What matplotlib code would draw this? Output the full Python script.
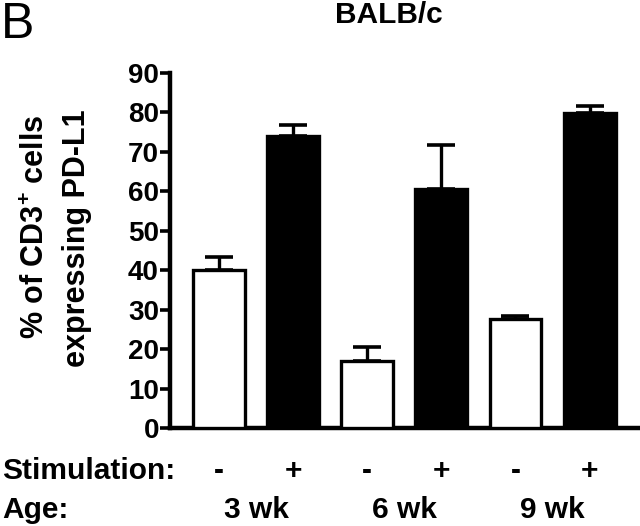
import matplotlib
matplotlib.use("Agg")
import matplotlib.pyplot as plt
import numpy as np

# Data
groups = ["3 wk", "6 wk", "9 wk"]
stim_labels = ["-", "+", "-", "+", "-", "+"]
values = [40.1, 74.1, 17.0, 60.6, 27.7, 79.9]
errors = [3.3, 2.6, 3.6, 11.2, 0.8, 1.7]
fills = ["white", "black", "white", "black", "white", "black"]
yticks = [0, 10, 20, 30, 40, 50, 60, 70, 80, 90]

plt.rcParams['font.family'] = ['Liberation Sans', 'DejaVu Sans']
plt.rcParams['mathtext.fontset'] = 'custom'
plt.rcParams['mathtext.rm'] = 'Liberation Sans:bold'
plt.rcParams['mathtext.bf'] = 'Liberation Sans:bold'
plt.rcParams['mathtext.it'] = 'Liberation Sans:bold'

FS = 21.5

fig = plt.figure(figsize=(6.4, 5.26), dpi=100)
ax = fig.add_axes([170/640, 1-428/526, 1-170/640, (428-73)/526])

x = np.arange(len(values))
ax.bar(x, values, width=0.70, color=fills, edgecolor='black', linewidth=2.4, zorder=3)
ax.errorbar(x, values, yerr=[np.zeros(len(errors)), errors], fmt='none',
            ecolor='black', elinewidth=2.4, capsize=10, capthick=2.6, zorder=2)

ax.set_xlim(-0.66, 5.68)
ax.set_ylim(0, 90)
ax.set_yticks(yticks)
ax.set_xticks([])
for s in ['top', 'right']:
    ax.spines[s].set_visible(False)
for s in ['left', 'bottom']:
    ax.spines[s].set_linewidth(3.2)
ax.tick_params(axis='y', length=7, width=2.6, pad=1, labelsize=20)
for lab in ax.get_yticklabels():
    lab.set_fontweight('bold')

# y label (two lines)
fig.text(36/640, 1-227/526, r'% of CD3$^{+}$ cells', rotation=90, ha='center', va='center',
         fontsize=22, fontweight='bold')
fig.text(77/640, 1-238/526, 'expressing PD-L1', rotation=90, ha='center', va='center',
         fontsize=22, fontweight='bold')

# title and panel letter
fig.text(389/640, 1-23/526, 'BALB/c', ha='center', va='baseline', fontsize=FS, fontweight='bold')
fig.text(0.002, 1-38/526, 'B', ha='left', va='baseline', fontsize=36)

# bottom annotations
trans = matplotlib.transforms.blended_transform_factory(ax.transData, fig.transFigure)
fig.text(2/640, 1-479/526, 'Stimulation:', ha='left', va='baseline', fontsize=FS, fontweight='bold')
fig.text(2/640, 1-518/526, 'Age:', ha='left', va='baseline', fontsize=FS, fontweight='bold')
for xi, s in zip(x, stim_labels):
    ax.text(xi, 1-479/526, s, transform=trans, ha='center', va='baseline', fontsize=FS,
            fontweight='bold', clip_on=False)
for i, g in enumerate(groups):
    ax.text(2*i + 0.5, 1-518/526, g, transform=trans, ha='center', va='baseline', fontsize=FS,
            fontweight='bold', clip_on=False)

fig.savefig('out.png', dpi=100)
